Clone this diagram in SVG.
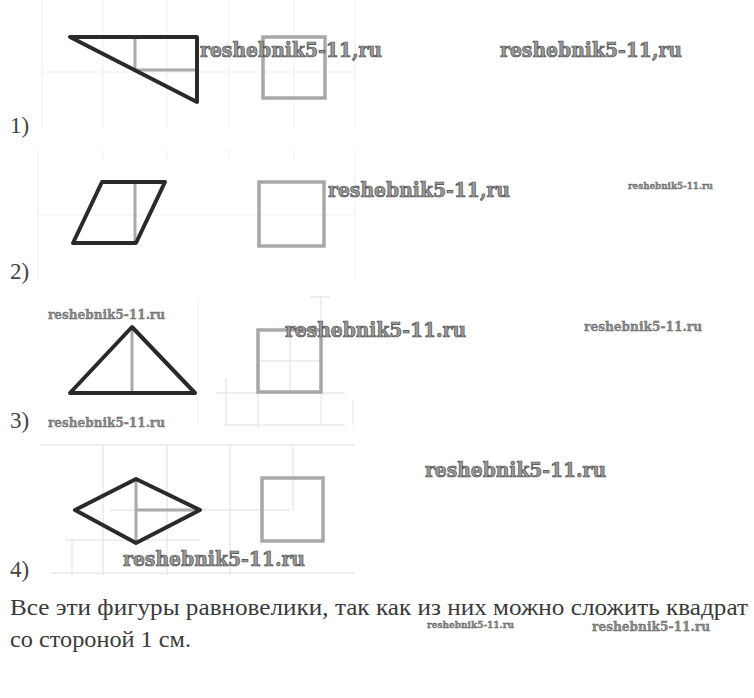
<svg xmlns="http://www.w3.org/2000/svg" width="754" height="698" viewBox="0 0 754 698">
<style>
.grid{stroke:#f0f0f0;stroke-width:1;fill:none}
.grid2{stroke:#dedede;stroke-width:1;fill:none}
.fig{stroke:#2a2a2a;stroke-width:4;fill:none;stroke-linejoin:round;stroke-linecap:round}
.aux{stroke:#aaaaaa;stroke-width:3;fill:none}
.sq{stroke:#a8a8a8;stroke-width:3.5;fill:none}
.lbl{font-family:"Liberation Serif","DejaVu Serif",serif;font-size:23px;fill:#444}
.body{font-family:"Liberation Serif","DejaVu Serif",serif;font-size:23px;fill:#3a3a3a}
.wm{font-family:"DejaVu Serif","Liberation Serif",serif;font-weight:bold;fill:#9a9a9a;stroke:#4a4a4a;stroke-width:0.7}
.wms{font-family:"DejaVu Serif","Liberation Serif",serif;font-weight:bold;fill:#8a8a8a;stroke:#555;stroke-width:0.3}
</style>
<rect width="754" height="698" fill="#ffffff"/>
<g id="grid">
<path class="grid" d="M42 0V128M103 0V128M167 0V128M229 0V128M294 0V128M355 0V128M42 72H355"/>
<path class="grid" d="M38 150V280M355 150V280M103 150V160M167 150V160M229 150V160M294 150V160M38 215H355"/>
<path class="grid" d="M198 298V425"/>
<path class="grid2" d="M290 329V391M258 361H320M216 393H345M321 297V425M310 297H330M258 390V428M225 425H345M226 378V425M353 400V425"/>
<path class="grid2" d="M40 445H355M110 510H290M72 540V575M103 445V575M167 445V575M230 445V575M293 445V510M65 540H200M50 573H355"/>
</g>
<g id="fig1">
<path class="aux" d="M135 37V70H197"/>
<path class="fig" d="M70 37H197V102Z"/>
<rect class="sq" x="263" y="37" width="62" height="61"/>
<text class="lbl" x="10" y="133">1)</text>
</g>
<g id="fig2">
<path class="aux" d="M135 182V243"/>
<path class="fig" d="M102 182H165L136 243H73Z"/>
<rect class="sq" x="259" y="182" width="65" height="64"/>
<text class="lbl" x="10" y="279">2)</text>
</g>
<g id="fig3">
<path class="aux" d="M132 327V393"/>
<path class="fig" d="M132 327L195 393H70Z"/>
<rect class="sq" x="258" y="330" width="63" height="62"/>
<text class="lbl" x="10" y="428">3)</text>
</g>
<g id="fig4">
<path class="aux" d="M136 479V543M136 510H200"/>
<path class="fig" d="M75 510L136 479L200 510L136 543Z"/>
<rect class="sq" x="262" y="478" width="61" height="63"/>
<text class="lbl" x="10" y="577">4)</text>
</g>
<g id="caption">
<text class="body" x="10" y="615" textLength="738" lengthAdjust="spacingAndGlyphs">Все эти фигуры равновелики, так как из них можно сложить квадрат</text>
<text class="body" x="10" y="647" textLength="181" lengthAdjust="spacingAndGlyphs">со стороной 1 см.</text>
</g>
<g id="watermarks">
<text class="wm" x="200" y="57" font-size="20" textLength="182" lengthAdjust="spacingAndGlyphs">reshebnik5-11,ru</text>
<text class="wm" x="500" y="57" font-size="20" textLength="182" lengthAdjust="spacingAndGlyphs">reshebnik5-11,ru</text>
<text class="wm" x="328" y="197" font-size="20" textLength="182" lengthAdjust="spacingAndGlyphs">reshebnik5-11,ru</text>
<text class="wm" x="285" y="337" font-size="20" textLength="181" lengthAdjust="spacingAndGlyphs">reshebnik5-11.ru</text>
<text class="wm" x="425" y="477" font-size="20" textLength="181" lengthAdjust="spacingAndGlyphs">reshebnik5-11.ru</text>
<text class="wm" x="123" y="566" font-size="20" textLength="182" lengthAdjust="spacingAndGlyphs">reshebnik5-11.ru</text>
<text class="wms" x="628" y="189" font-size="9" textLength="85" lengthAdjust="spacingAndGlyphs">reshebnik5-11.ru</text>
<text class="wms" x="48" y="319" font-size="12" textLength="117" lengthAdjust="spacingAndGlyphs">reshebnik5-11.ru</text>
<text class="wms" x="584" y="331" font-size="12" textLength="118" lengthAdjust="spacingAndGlyphs">reshebnik5-11.ru</text>
<text class="wms" x="48" y="427" font-size="12" textLength="117" lengthAdjust="spacingAndGlyphs">reshebnik5-11.ru</text>
<text class="wms" x="427" y="628" font-size="9" textLength="87" lengthAdjust="spacingAndGlyphs">reshebnik5-11.ru</text>
<text class="wms" x="592" y="631" font-size="12" textLength="118" lengthAdjust="spacingAndGlyphs">reshebnik5-11.ru</text>
</g>
</svg>
